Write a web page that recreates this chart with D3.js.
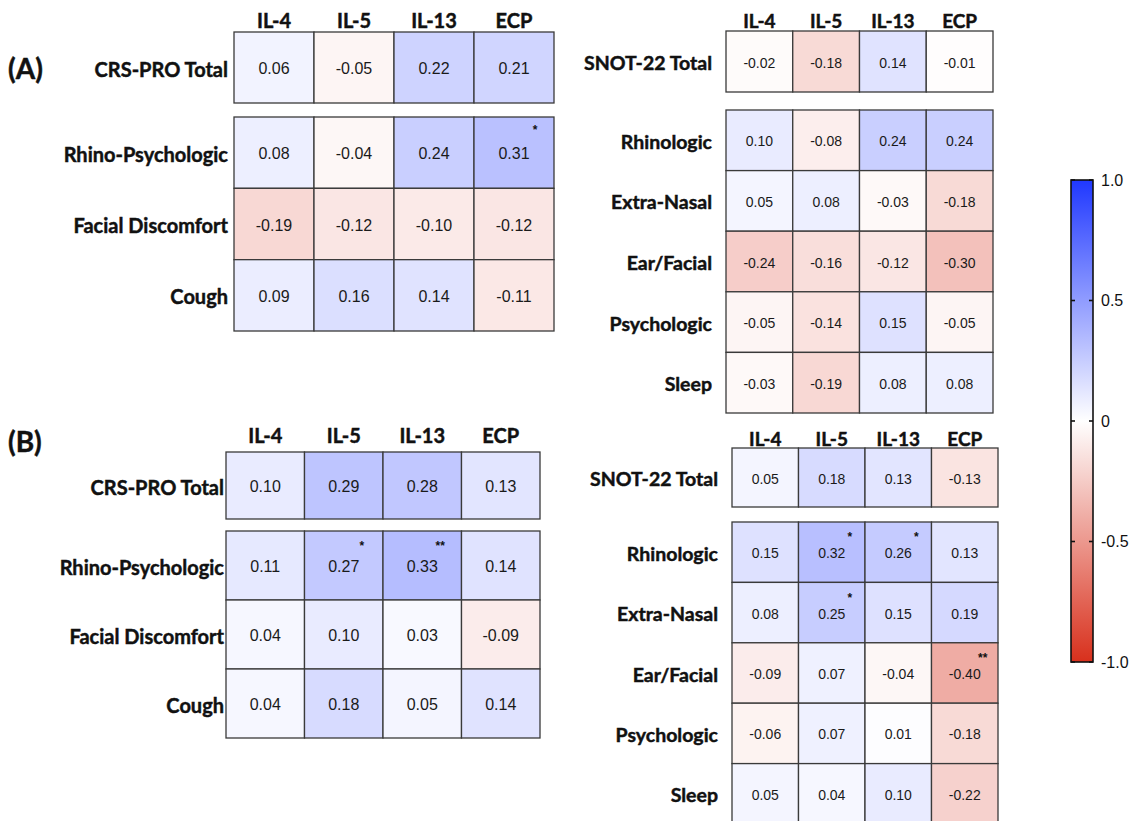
<!DOCTYPE html>
<html>
<head>
<meta charset="utf-8">
<script src="https://cdn.jsdelivr.net/npm/d3@7"></script>
<style>
  html, body { margin: 0; padding: 0; background: #ffffff; }
  svg { display: block; }
</style>
</head>
<body>
<svg id="chart" width="1133" height="821"></svg>
<script>
// Biomarkers (columns) shared by all four heatmaps
const markers = ["IL-4", "IL-5", "IL-13", "ECP"];

// Row labels
const crsTotal = "CRS-PRO Total";
const crsDomains = ["Rhino-Psychologic", "Facial Discomfort", "Cough"];
const snotTotal = "SNOT-22 Total";
const snotDomains = ["Rhinologic", "Extra-Nasal", "Ear/Facial", "Psychologic", "Sleep"];

// (A) correlation coefficients
const crsTotalA = [0.06, -0.05, 0.22, 0.21];
const crsDomainsA = [
  [0.08, -0.04, 0.24, 0.31],
  [-0.19, -0.12, -0.10, -0.12],
  [0.09, 0.16, 0.14, -0.11]
];
const crsStarsA = [["", "", "", "*"], ["", "", "", ""], ["", "", "", ""]];
const snotTotalA = [-0.02, -0.18, 0.14, -0.01];
const snotDomainsA = [
  [0.10, -0.08, 0.24, 0.24],
  [0.05, 0.08, -0.03, -0.18],
  [-0.24, -0.16, -0.12, -0.30],
  [-0.05, -0.14, 0.15, -0.05],
  [-0.03, -0.19, 0.08, 0.08]
];

// (B) correlation coefficients
const crsTotalB = [0.10, 0.29, 0.28, 0.13];
const crsDomainsB = [
  [0.11, 0.27, 0.33, 0.14],
  [0.04, 0.10, 0.03, -0.09],
  [0.04, 0.18, 0.05, 0.14]
];
const crsStarsB = [["", "*", "**", ""], ["", "", "", ""], ["", "", "", ""]];
const snotTotalB = [0.05, 0.18, 0.13, -0.13];
const snotDomainsB = [
  [0.15, 0.32, 0.26, 0.13],
  [0.08, 0.25, 0.15, 0.19],
  [-0.09, 0.07, -0.04, -0.40],
  [-0.06, 0.07, 0.01, -0.18],
  [0.05, 0.04, 0.10, -0.22]
];
const snotStarsB = [
  ["", "*", "*", ""],
  ["", "*", "", ""],
  ["", "", "", "**"],
  ["", "", "", ""],
  ["", "", "", ""]
];

// Colour bar ticks
const legendTicks = [1.0, 0.5, 0, -0.5, -1.0];
const legendTickLabels = ["1.0", "0.5", "0", "-0.5", "-1.0"];

const svg = d3.select("#chart");
const labelFont = "Lato, 'Open Sans', sans-serif";
const numFont = "'Liberation Sans', Arial, Helvetica, sans-serif";

// Diverging red–white–blue scale for r
const color = d3.scaleLinear()
  .domain([-1, 0, 1])
  .range(["#d8301c", "#ffffff", "#2038ff"])
  .interpolate(d3.interpolateRgb);

// Bold label styling (slightly thickened strokes)
function boldLabel(sel, size) {
  return sel.attr("font-family", labelFont)
    .attr("font-weight", 700)
    .attr("font-size", size)
    .attr("fill", "#111")
    .attr("stroke", "#111")
    .attr("stroke-width", 0.45);
}

function heatmap(cfg) {
  const g = svg.append("g");
  const x = d3.scaleBand().domain(markers).range([cfg.x0, cfg.x1]).padding(0);

  // Column headers
  boldLabel(g.selectAll("text.hdr").data(markers).join("text")
    .attr("class", "hdr")
    .attr("x", d => x(d) + x.bandwidth() / 2)
    .attr("y", cfg.hdrY)
    .attr("text-anchor", "middle")
    .attr("dominant-baseline", "central"), cfg.hdrSize)
    .text(d => d);

  // One block for the total score, one for its domains
  const blocks = [
    { rows: [cfg.totalLabel], values: [cfg.totalValues], stars: [["", "", "", ""]], range: cfg.totalRange },
    { rows: cfg.domainLabels, values: cfg.domainValues, stars: cfg.domainStars, range: cfg.domainRange }
  ];

  blocks.forEach(b => {
    const y = d3.scaleBand().domain(b.rows).range(b.range).padding(0);
    const cells = [];
    b.rows.forEach((r, i) => markers.forEach((m, j) => {
      cells.push({ row: r, col: m, v: b.values[i][j], star: b.stars[i][j] });
    }));

    g.append("g").selectAll("rect").data(cells).join("rect")
      .attr("x", d => x(d.col))
      .attr("y", d => y(d.row))
      .attr("width", x.bandwidth())
      .attr("height", y.bandwidth())
      .attr("fill", d => color(d.v))
      .attr("stroke", "#3a3a3a")
      .attr("stroke-width", 1.3);

    g.append("g").selectAll("text").data(cells).join("text")
      .attr("x", d => x(d.col) + x.bandwidth() / 2)
      .attr("y", d => y(d.row) + y.bandwidth() / 2 + 1)
      .attr("text-anchor", "middle")
      .attr("dominant-baseline", "central")
      .attr("font-family", numFont)
      .attr("font-size", cfg.numSize)
      .attr("fill", "#1a1a1a")
      .text(d => d3.format(".2f")(d.v).replace("−", "-"));

    g.append("g").selectAll("text").data(cells.filter(d => d.star)).join("text")
      .attr("x", d => x(d.col) + x.bandwidth() / 2 + cfg.starDx)
      .attr("y", d => y(d.row) + y.bandwidth() / 2 + cfg.starDy)
      .attr("text-anchor", "middle")
      .attr("dominant-baseline", "central")
      .attr("font-family", numFont)
      .attr("font-weight", 700)
      .attr("font-size", 12)
      .attr("fill", "#111")
      .text(d => d.star);

    boldLabel(g.append("g").selectAll("text").data(b.rows).join("text")
      .attr("x", cfg.labelX)
      .attr("y", d => y(d) + y.bandwidth() / 2 + 1)
      .attr("text-anchor", "end")
      .attr("dominant-baseline", "central"), cfg.labelSize)
      .text(d => d);
  });
}

// (A) CRS-PRO
heatmap({
  x0: 234, x1: 554, hdrY: 20, hdrSize: 20, labelX: 228, labelSize: 20, numSize: 16,
  totalLabel: crsTotal, totalValues: crsTotalA, totalRange: [32, 103],
  domainLabels: crsDomains, domainValues: crsDomainsA, domainStars: crsStarsA, domainRange: [117, 331],
  starDx: 21, starDy: -23
});
// (A) SNOT-22
heatmap({
  x0: 726, x1: 993, hdrY: 20, hdrSize: 19, labelX: 712, labelSize: 19.5, numSize: 14,
  totalLabel: snotTotal, totalValues: snotTotalA, totalRange: [31, 92],
  domainLabels: snotDomains, domainValues: snotDomainsA,
  domainStars: snotDomains.map(() => ["", "", "", ""]), domainRange: [110, 413],
  starDx: 18, starDy: -15
});
// (B) CRS-PRO
heatmap({
  x0: 226, x1: 540, hdrY: 435, hdrSize: 20, labelX: 224, labelSize: 20, numSize: 16,
  totalLabel: crsTotal, totalValues: crsTotalB, totalRange: [452, 519],
  domainLabels: crsDomains, domainValues: crsDomainsB, domainStars: crsStarsB, domainRange: [531, 738],
  starDx: 18, starDy: -20
});
// (B) SNOT-22
heatmap({
  x0: 732, x1: 998, hdrY: 438, hdrSize: 19, labelX: 718, labelSize: 19.5, numSize: 14,
  totalLabel: snotTotal, totalValues: snotTotalB, totalRange: [448, 507],
  domainLabels: snotDomains, domainValues: snotDomainsB, domainStars: snotStarsB, domainRange: [522, 824],
  starDx: 18, starDy: -15
});

// Panel tags
boldLabel(svg.append("text").attr("x", 8).attr("y", 68).attr("dominant-baseline", "central"), 28).text("(A)");
boldLabel(svg.append("text").attr("x", 8).attr("y", 441).attr("dominant-baseline", "central"), 28).text("(B)");

// Colour bar
const barX = 1071, barW = 22;
const ly = d3.scaleLinear().domain([-1, 1]).range([662, 180]);
const defs = svg.append("defs");
const grad = defs.append("linearGradient").attr("id", "rbar")
  .attr("x1", 0).attr("y1", 1).attr("x2", 0).attr("y2", 0);
d3.range(-1, 1.0001, 0.1).forEach(v => {
  grad.append("stop").attr("offset", (v + 1) / 2).attr("stop-color", color(v));
});
svg.append("rect").attr("x", barX).attr("y", ly(1)).attr("width", barW)
  .attr("height", ly(-1) - ly(1)).attr("fill", "url(#rbar)")
  .attr("stroke", "#111").attr("stroke-width", 1.6);
const tk = svg.append("g").selectAll("g").data(legendTicks).join("g");
tk.append("line").attr("x1", barX).attr("x2", barX + 4)
  .attr("y1", d => ly(d)).attr("y2", d => ly(d)).attr("stroke", "#111").attr("stroke-width", 1.6);
tk.append("line").attr("x1", barX + barW - 4).attr("x2", barX + barW)
  .attr("y1", d => ly(d)).attr("y2", d => ly(d)).attr("stroke", "#111").attr("stroke-width", 1.6);
tk.append("text").attr("x", barX + barW + 8).attr("y", d => ly(d))
  .attr("dominant-baseline", "central")
  .attr("font-family", numFont).attr("font-size", 16).attr("fill", "#111")
  .text((d, i) => legendTickLabels[i]);
</script>
</body>
</html>
